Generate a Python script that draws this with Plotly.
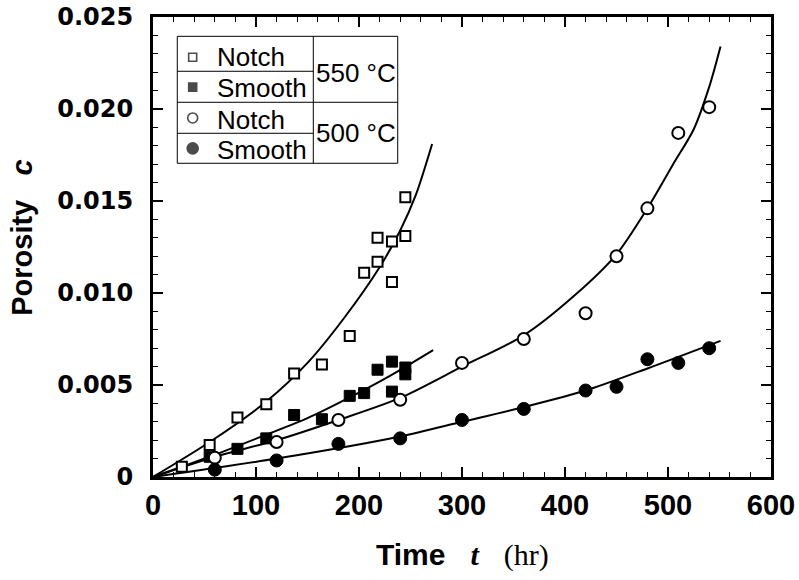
import plotly.graph_objects as go

# ---------------- data ----------------
notch550_t = [28, 55, 82, 110, 137, 164, 191, 205, 218, 218, 232, 232, 245, 245]
notch550_c = [0.00056, 0.00174, 0.00323, 0.00396, 0.00563, 0.00612, 0.00766,
              0.0111, 0.0117, 0.0130, 0.0128, 0.0106, 0.0131, 0.0152]

smooth550_t = [55, 82, 110, 137, 164, 191, 205, 218, 232, 232, 245, 245]
smooth550_c = [0.0011, 0.00153, 0.0021, 0.00337, 0.00314, 0.00441, 0.00456,
               0.00583, 0.00627, 0.00464, 0.00595, 0.00558]

notch500_t = [60, 120, 180, 240, 300, 360, 420, 450, 480, 510, 540]
notch500_c = [0.00105, 0.0019, 0.0031, 0.0042, 0.0062, 0.0075, 0.0089,
              0.0120, 0.0146, 0.0187, 0.0201]

smooth500_t = [60, 120, 180, 240, 300, 360, 420, 450, 480, 510, 540]
smooth500_c = [0.0004, 0.0009, 0.0018, 0.0021, 0.0031, 0.0037, 0.0047,
               0.0049, 0.0064, 0.0062, 0.0070]

# fitted curves
fit_n550_t = [0, 55, 110, 150, 185, 220, 240, 255, 271]
fit_n550_c = [0, 0.0019, 0.0041, 0.0062, 0.0086, 0.0114, 0.0134, 0.0153, 0.0181]

fit_s550_t = [0, 55, 110, 150, 190, 230, 272]
fit_s550_c = [0, 0.0011, 0.0023, 0.0032, 0.0043, 0.0055, 0.0069]

fit_n500_t = [0, 60, 120, 180, 240, 300, 360, 410, 450, 480, 505, 525, 540, 551]
fit_n500_c = [0, 0.0011, 0.0020, 0.0031, 0.0043, 0.0060, 0.0077, 0.0099,
              0.0121, 0.0146, 0.0170, 0.0189, 0.0212, 0.0234]

fit_s500_t = [0, 120, 240, 300, 360, 420, 480, 551]
fit_s500_c = [0, 0.0010, 0.0022, 0.0030, 0.0038, 0.0047, 0.0059, 0.0074]

x_ticks = [0, 100, 200, 300, 400, 500, 600]
y_ticks = [0, 0.005, 0.010, 0.015, 0.020, 0.025]
y_ticktext = ["0", "0.005", "0.010", "0.015", "0.020", "0.025"]

legend_labels = ["Notch", "Smooth", "Notch", "Smooth"]
legend_temps = ["550 °C", "500 °C"]

# ---------------- figure ----------------
fig = go.Figure()

for tt, cc in [(fit_n550_t, fit_n550_c), (fit_s550_t, fit_s550_c),
               (fit_n500_t, fit_n500_c), (fit_s500_t, fit_s500_c)]:
    fig.add_trace(go.Scatter(x=tt, y=cc, mode="lines",
                             line=dict(color="black", width=2, shape="spline", smoothing=0.8),
                             hoverinfo="skip", showlegend=False))

fig.add_trace(go.Scatter(x=notch550_t, y=notch550_c, mode="markers", showlegend=False,
                         marker=dict(symbol="square", size=10, color="white",
                                     line=dict(color="black", width=2))))
fig.add_trace(go.Scatter(x=smooth550_t, y=smooth550_c, mode="markers", showlegend=False,
                         marker=dict(symbol="square", size=11, color="black",
                                     line=dict(color="black", width=1))))
fig.add_trace(go.Scatter(x=notch500_t, y=notch500_c, mode="markers", showlegend=False,
                         marker=dict(symbol="circle", size=12, color="white",
                                     line=dict(color="black", width=2))))
fig.add_trace(go.Scatter(x=smooth500_t, y=smooth500_c, mode="markers", showlegend=False,
                         marker=dict(symbol="circle", size=13, color="black",
                                     line=dict(color="black", width=1))))

# ---------------- legend table (layout decoration, paper coords) ----------------
L, R, MID = 0.0393, 0.396, 0.2594
TOP, BOT = 0.958, 0.682
ROW1, ROW2, ROW3 = 0.882, 0.8146, 0.7472
key_x = 0.0642
key_y = [0.9125, 0.8475, 0.7805, 0.7145]
text_y = [0.912, 0.845, 0.777, 0.7115]

LINE = dict(color="black", width=1)
shapes = [
    dict(type="rect", xref="paper", yref="paper", x0=L, x1=R, y0=BOT, y1=TOP,
         line=LINE, fillcolor="rgba(0,0,0,0)", layer="above"),
    dict(type="line", xref="paper", yref="paper", x0=MID, x1=MID, y0=BOT, y1=TOP,
         line=LINE, layer="above"),
    dict(type="line", xref="paper", yref="paper", x0=L, x1=MID, y0=ROW1, y1=ROW1,
         line=LINE, layer="above"),
    dict(type="line", xref="paper", yref="paper", x0=L, x1=R, y0=ROW2, y1=ROW2,
         line=LINE, layer="above"),
    dict(type="line", xref="paper", yref="paper", x0=L, x1=MID, y0=ROW3, y1=ROW3,
         line=LINE, layer="above"),
]

key_syms = ["square", "square", "circle", "circle"]
key_fill = ["white", "black", "white", "black"]
key_size = [8, 8, 10, 11]
fig.add_trace(go.Scatter(x=[key_x] * 4, y=key_y, mode="markers", xaxis="x2", yaxis="y2",
                         showlegend=False, hoverinfo="skip",
                         marker=dict(symbol=key_syms, color=key_fill, size=key_size,
                                     line=dict(color="black", width=1.6))))

LEG_FONT = dict(family="Liberation Sans, Arial, sans-serif", size=26, color="black")
annotations = []
for lab, ty in zip(legend_labels, text_y):
    annotations.append(dict(xref="paper", yref="paper", x=0.1, y=ty, text=lab,
                            showarrow=False, xanchor="left", yanchor="middle", font=LEG_FONT))
for lab, ty in zip(legend_temps, [0.8776, 0.7472]):
    annotations.append(dict(xref="paper", yref="paper", x=0.261, y=ty, text=lab,
                            showarrow=False, xanchor="left", yanchor="middle", font=LEG_FONT))

# axis titles
annotations.append(dict(
    xref="paper", yref="paper", x=0.5, y=-0.17, xanchor="center", yanchor="middle",
    showarrow=False,
    text=("Time&nbsp;&nbsp;&nbsp;<i><span style='font-family:Liberation Serif'>t</span></i>"
          "&nbsp;&nbsp;&nbsp;<span style='font-family:Liberation Serif;font-weight:normal'>(hr)</span>"),
    font=dict(family="Liberation Sans, Arial, sans-serif", size=30, color="black", weight="bold")))
annotations.append(dict(
    xref="paper", yref="paper", x=-0.212, y=0.52, xanchor="center", yanchor="middle",
    showarrow=False, textangle=-90,
    text="Porosity&nbsp;&nbsp;&nbsp;<i>c</i>",
    font=dict(family="Liberation Sans, Arial, sans-serif", size=29, color="black",
              weight="bold")))

fig.update_layout(
    width=799, height=580,
    margin=dict(l=153, r=28, t=17, b=103, autoexpand=False),
    paper_bgcolor="white", plot_bgcolor="white",
    showlegend=False,
    shapes=shapes, annotations=annotations,
    xaxis=dict(range=[0, 600], tickvals=x_ticks, ticks="inside", ticklen=10, tickwidth=1.5,
               tickcolor="black", showline=True, linewidth=3, linecolor="black",
               mirror="allticks", showgrid=False, zeroline=False, automargin=False,
               ticklabelstandoff=0,
               tickfont=dict(family="Liberation Sans, Arial, sans-serif", size=29,
                             color="black", weight="bold"),
               minor=dict(dtick=20, ticks="inside", ticklen=5, tickwidth=1.2,
                          tickcolor="black", showgrid=False)),
    yaxis=dict(range=[0, 0.025], tickvals=y_ticks, ticktext=y_ticktext, ticks="inside",
               ticklen=10, tickwidth=1.5, tickcolor="black", showline=True, linewidth=3,
               linecolor="black", mirror="allticks", showgrid=False, zeroline=False,
               automargin=False, ticklabelstandoff=12,
               tickfont=dict(family="DejaVu Sans, sans-serif", size=24,
                             color="black", weight="bold"),
               minor=dict(dtick=0.001, ticks="inside", ticklen=5, tickwidth=1.2,
                          tickcolor="black", showgrid=False)),
    xaxis2=dict(range=[0, 1], overlaying="x", visible=False, anchor="y2"),
    yaxis2=dict(range=[0, 1], overlaying="y", visible=False, anchor="x2"),
)

fig.write_html("out.html", config={"displayModeBar": False},
               post_script="document.body.style.margin='0px';")
